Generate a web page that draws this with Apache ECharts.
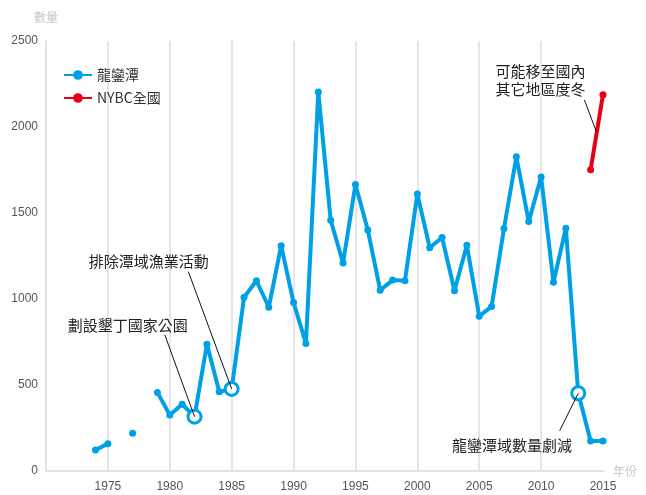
<!DOCTYPE html>
<html>
<head>
<meta charset="utf-8">
<script src="https://cdn.jsdelivr.net/npm/echarts@6/dist/echarts.min.js"></script>
<style>
  html, body { margin: 0; padding: 0; background: #fff; }
  #chart { width: 646px; height: 495px; }
</style>
</head>
<body>
<div id="chart"></div>
<script>
// 龍鑾潭 yearly counts (null = no record)
var years = [1974, 1975, 1976, 1977, 1978, 1979, 1980, 1981, 1982, 1983, 1984, 1985, 1986, 1987, 1988, 1989,
  1990, 1991, 1992, 1993, 1994, 1995, 1996, 1997, 1998, 1999, 2000, 2001, 2002, 2003, 2004, 2005,
  2006, 2007, 2008, 2009, 2010, 2011, 2012, 2013, 2014, 2015];
var lungluanValues = [122, 159, null, 219, null, 457, 326, 388, 316, 737, 461, 477, 1010, 1106, 952, 1310,
  979, 742, 2204, 1458, 1209, 1665, 1401, 1051, 1110, 1106, 1611, 1298, 1358, 1048, 1312, 900,
  956, 1410, 1827, 1450, 1709, 1097, 1412, 452, 174, 174];
// NYBC 全國
var nybcYears = [2014, 2015];
var nybcValues = [1752, 2188];
// years marked with open circles
var markedYears = [1982, 1985, 2013];

var xTicks = [1970, 2015, 5];
var yTicks = [0, 2500, 500];

var blue = "#00a0e6";
var red = "#e60012";
var cjk = "'Noto Sans CJK TC', 'Noto Sans', sans-serif";
var num = "'Liberation Sans', 'Noto Sans', sans-serif";

var lungluanData = years.map(function(y, i) {
  var v = lungluanValues[i];
  if (markedYears.indexOf(y) >= 0) {
    return {
      value: [y, v],
      symbolSize: 13,
      itemStyle: { color: "#fff", borderColor: blue, borderWidth: 3 }
    };
  }
  return [y, v];
});
var nybcData = nybcYears.map(function(y, i) { return [y, nybcValues[i]]; });

// annotation texts (data coords) and leader lines
var notes = [
  { text: "劃設墾丁國家公園", at: [1976.6, 850] },
  { text: "排除潭域漁業活動", at: [1978.3, 1217] },
  { text: "龍鑾潭域數量劇減", at: [2007.65, 151] },
  { text: "可能移至國內\n其它地區度冬", at: [2009.95, 2273] }
];
var leaders = [
  [[1979.6, 791], [1982, 316]],
  [[1981.5, 1159], [1985, 477]],
  [[2011.5, 234], [2013, 452]],
  [[2013.5, 2157], [2014.45, 1975]]
];

var chart = echarts.init(document.getElementById("chart"));
chart.setOption({
  animation: false,
  textStyle: { fontFamily: cjk },
  grid: { left: 46, right: 43, top: 41, bottom: 24 },
  legend: {
    orient: "vertical",
    left: 58,
    top: 63,
    itemWidth: 28,
    itemHeight: 12,
    itemGap: 9,
    textStyle: { fontSize: 14, color: "#333", fontFamily: cjk },
    data: ["龍鑾潭", "NYBC全國"]
  },
  xAxis: {
    type: "value",
    min: xTicks[0],
    max: xTicks[1],
    interval: xTicks[2],
    name: "年份",
    nameLocation: "end",
    nameGap: 10,
    nameTextStyle: { color: "#c8c8c8", fontSize: 12, verticalAlign: "middle" },
    axisLine: { lineStyle: { color: "#e3e3e3", width: 2 } },
    axisTick: { show: false },
    axisLabel: {
      color: "#555",
      fontSize: 12,
      fontFamily: num,
      margin: 10,
      showMinLabel: false,
      formatter: function(v) { return String(v); }
    },
    splitLine: { show: true, showMaxLine: false, lineStyle: { color: "#e6e6e6", width: 2 } }
  },
  yAxis: {
    type: "value",
    min: yTicks[0],
    max: yTicks[1],
    interval: yTicks[2],
    name: "數量",
    nameLocation: "end",
    nameGap: 18,
    nameTextStyle: { color: "#c8c8c8", fontSize: 12 },
    axisLine: { show: true, lineStyle: { color: "#e3e3e3", width: 2 } },
    axisTick: { show: false },
    axisLabel: {
      color: "#555",
      fontSize: 12,
      fontFamily: num,
      margin: 8,
      formatter: function(v) { return String(v); }
    },
    splitLine: { show: false }
  },
  series: [
    {
      name: "龍鑾潭",
      type: "line",
      data: lungluanData,
      color: blue,
      symbol: "circle",
      symbolSize: 7,
      showAllSymbol: true,
      connectNulls: false,
      lineStyle: { width: 4, color: blue },
      itemStyle: { color: blue },
      z: 3,
      markLine: {
        silent: true,
        symbol: "none",
        label: { show: false },
        lineStyle: { color: "#111", width: 1, type: "solid" },
        data: leaders.map(function(l) {
          return [{ coord: l[0] }, { coord: l[1] }];
        })
      },
      markPoint: {
        silent: true,
        symbol: "circle",
        symbolSize: 1,
        itemStyle: { color: "rgba(0,0,0,0)" },
        label: {
          show: true,
          position: "inside",
          color: "#222",
          fontSize: 15,
          lineHeight: 18,
          fontFamily: cjk
        },
        data: notes.map(function(n) {
          return { coord: n.at, label: { formatter: n.text } };
        })
      }
    },
    {
      name: "NYBC全國",
      type: "line",
      data: nybcData,
      color: red,
      symbol: "circle",
      symbolSize: 7,
      lineStyle: { width: 4, color: red },
      itemStyle: { color: red },
      z: 2
    }
  ]
});
</script>
</body>
</html>
